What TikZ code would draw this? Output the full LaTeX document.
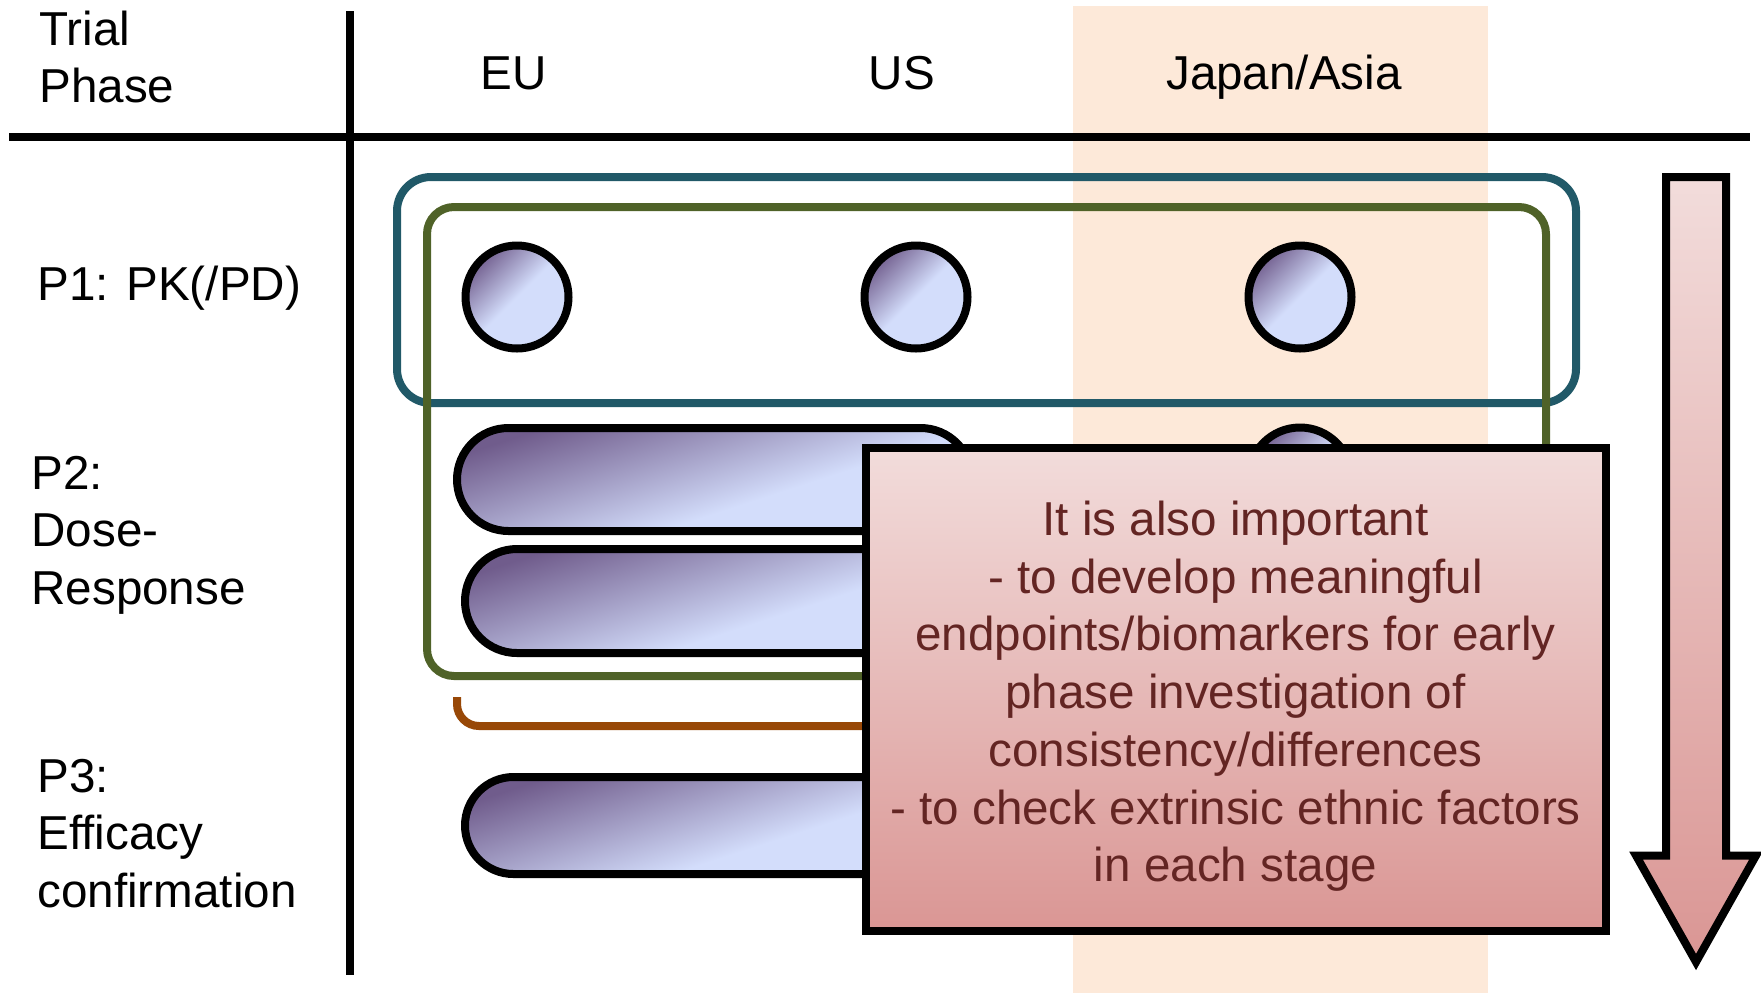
\documentclass[tikz,border=0pt]{standalone}
\usepackage{fontspec}
\setmainfont{Liberation Sans}
\usetikzlibrary{shapes.misc}

\definecolor{pdark}{RGB}{112,92,140}
\definecolor{plight}{RGB}{211,221,251}
\definecolor{bandcol}{RGB}{253,233,217}
\definecolor{tealc}{RGB}{33,89,104}
\definecolor{greenc}{RGB}{79,98,40}
\definecolor{orangec}{RGB}{152,72,7}
\definecolor{notetop}{RGB}{242,220,219}
\definecolor{notebot}{RGB}{218,150,148}
\definecolor{notetext}{RGB}{99,37,35}

% diagonal glow for the round study markers
\pgfdeclarehorizontalshading{trialglow}{100bp}{color(0bp)=(pdark); color(24bp)=(pdark); color(50bp)=(plight); color(100bp)=(plight)}
% flatter glow for the long study bars
\pgfdeclarehorizontalshading{barglow}{100bp}{color(0bp)=(pdark); color(25bp)=(pdark); color(58bp)=(plight); color(100bp)=(plight)}

\tikzset{
  bigtext/.style={font=\fontsize{23.8pt}{28.85pt}\selectfont},
  lbl/.style={bigtext, anchor=base west, inner sep=0pt},
  colhead/.style={bigtext, anchor=base, inner sep=0pt},
  axisline/.style={line width=4pt},
  phasedot/.style={circle, draw=black, line width=4pt, shading=trialglow, shading angle=-45,
    minimum size=51.5pt, inner sep=0pt},
  phasebar/.style={rounded rectangle, draw=black, line width=4pt, shading=barglow, shading angle=-72,
    inner sep=0pt},
  groupframe/.style={line width=4pt},
  notebox/.style={rectangle, draw=black, line width=4pt, top color=notetop, bottom color=notebot,
    minimum width=370pt, minimum height=241.5pt, inner sep=0pt},
}

\begin{document}
\begin{tikzpicture}[x=0.5pt, y=-0.5pt]
\useasboundingbox (0,0) rectangle (1761,993);

% Japan/Asia column band
\fill[bandcol] (1073,6) rectangle (1488,993);

% table rules
\coordinate (hl) at (9,137);
\coordinate (hr) at (1750,137);
\coordinate (vt) at (350,11);
\coordinate (vb) at (350,975);
\draw[axisline] (hl) -- (hr);
\draw[axisline] (vt) -- (vb);

% column and row headings
\node[lbl] (phasehead) at (39,45) {\parbox[t]{200pt}{Trial\\Phase}};
\node[colhead] (eu) at (514,89) {EU};
\node[colhead] (us) at (902,89) {US};
\node[colhead] (asia) at (1284,89) {Japan/Asia};

\node[lbl] (rowone) at (37,300) {P1: PK(/PD)};
\node[lbl] (rowtwo) at (31,489) {\parbox[t]{200pt}{P2:\\Dose-\\Response}};
\node[lbl] (rowthree) at (37,792) {\parbox[t]{200pt}{P3:\\Efficacy\\confirmation}};

% grouping frames
\draw[groupframe, tealc, rounded corners=17pt] (397,177) rectangle (1576,403);
\draw[groupframe, greenc, rounded corners=13.5pt] (427,207) rectangle (1546,676);

% phase 1 studies
\node[phasedot] (pkeu) at (517,297) {};
\node[phasedot] (pkus) at (916,297) {};
\node[phasedot] (pkasia) at (1300,297) {};

% phase 2 studies
\node[phasedot] (drasia) at (1300,479) {};
\node[phasebar, minimum width=257.5pt, minimum height=51.5pt] (drone) at (714.5,479.5) {};
\node[phasebar, minimum width=254pt, minimum height=52pt] (drtwo) at (719,601) {};

% phase 3 bracket and study
\draw[orangec, line width=4pt, rounded corners=11pt] (457,697) |- (1000,726);
\node[phasebar, minimum width=254pt, minimum height=48.5pt] (conf) at (719,825.5) {};

% note
\node[notebox] (note) at (1235.5,689.5) {};
\node[bigtext, anchor=base, inner sep=0pt, text=notetext] (notetxt) at (1235.5,535.5)
  {\parbox[t]{360pt}{\centering It is also important\\
  - to develop meaningful\\
  endpoints/biomarkers for early\\
  phase investigation of\\
  consistency/differences\\
  - to check extrinsic ethnic factors\\
  in each stage}};

% progression arrow
\coordinate (atl) at (1666,177);
\coordinate (atr) at (1726,177);
\coordinate (asr) at (1726,855.5);
\coordinate (ahr) at (1756,855.5);
\coordinate (atip) at (1696,962);
\coordinate (ahl) at (1636,855.5);
\coordinate (asl) at (1666,855.5);
\draw[line width=4pt, line join=miter, top color=notetop, bottom color=notebot]
  (atl) -- (atr) -- (asr) -- (ahr) -- (atip) -- (ahl) -- (asl) -- cycle;
\end{tikzpicture}
\end{document}
